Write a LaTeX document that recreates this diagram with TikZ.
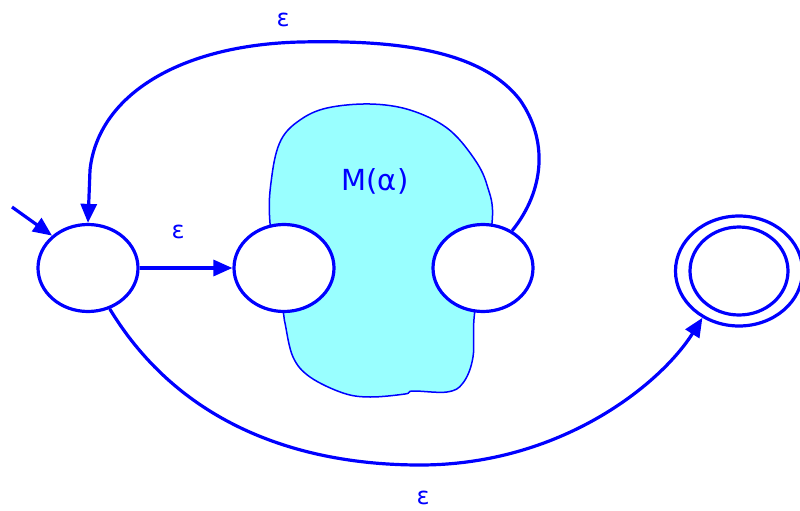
\documentclass[tikz,border=0pt]{standalone}
\usepackage{fontspec}
\setmainfont{DejaVu Sans}
\usetikzlibrary{shapes.geometric,arrows.meta}
\definecolor{fablue}{RGB}{0,0,255}
\definecolor{blobcyan}{RGB}{153,255,255}
\begin{document}
\begin{tikzpicture}[x=1pt,y=-1pt,
  state/.style={ellipse,draw=fablue,line width=3.2pt,fill=white,inner sep=0pt,minimum width=100pt,minimum height=87pt},
  edge/.style={draw=fablue,line width=3.2pt,-{Triangle[length=19pt,width=16pt]}},
  lbl/.style={text=fablue,font=\fontsize{24}{24}\selectfont}]
\useasboundingbox (0,0) rectangle (800,511);
% blob
\draw[draw=fablue,line width=1.5pt,fill=blobcyan] plot[smooth cycle,tension=0.6] coordinates{
 (270,223) (272,175) (281,140) (300,120) (327,108) (370,104) (410,110) (447,128) (473,157) (487,185) (492,223)
 (475,310) (473,357) (463,383) (447,392) (413,391) (405,394) (370,397) (343,393) (310,377) (293,357) (285,323) (283,310)};
\node[text=fablue,font=\fontsize{29}{29}\selectfont] (m) at (375,181) {M(α)};
% states
\node[state] (q1) at (88,268) {};
\node[state] (q2) at (284,268) {};
\node[state] (q3) at (483,268) {};
\node[ellipse,draw=fablue,line width=3.2pt,inner sep=0pt,minimum width=127pt,minimum height=110pt] (qf) at (739,271) {};
\node[ellipse,draw=fablue,line width=3.2pt,inner sep=0pt,minimum width=98pt,minimum height=88pt] (qfi) at (739,271) {};
\coordinate (s) at (12,207);
% edges
\draw[edge] (s) -- (q1.138);
\draw[edge] (q1.east) -- (q2.west);
\draw[edge] (q3.52) .. controls (545,190) and (548,140) .. (520,100) .. controls (480,48) and (390,40) .. (300,42) .. controls (180,45) and (98,95) .. (90,170) -- (q1.north);
\draw[edge] (q1.-62) .. controls (180,425) and (300,465) .. (420,465) .. controls (560,465) and (660,385) .. (qf.-128);
% labels
\node[lbl] (e1) at (283,20) {ε};
\node[lbl] (e2) at (178,232) {ε};
\node[lbl] (e3) at (423,498) {ε};
\end{tikzpicture}
\end{document}
